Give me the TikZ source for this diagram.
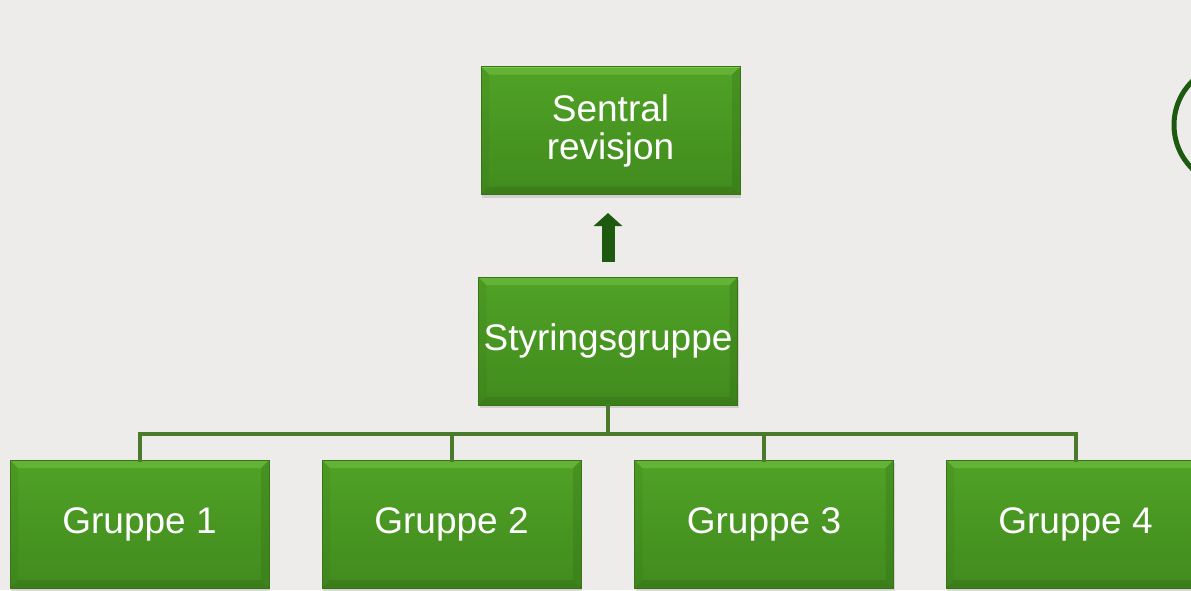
\documentclass[tikz,border=0pt]{standalone}
\usepackage{fontspec}
\setmainfont{Liberation Sans}
\usepackage{tikz}
\usetikzlibrary{positioning}
\usetikzlibrary{arrows.meta}
\usetikzlibrary{calc}
\usetikzlibrary{shadows}

\definecolor{bgcol}{HTML}{EEECEA}
\definecolor{boxtop}{HTML}{50A226}
\definecolor{boxbot}{HTML}{418B1E}
\definecolor{boxline}{HTML}{3A721A}
\definecolor{bevlight}{HTML}{7CCB4A}
\definecolor{bevdark}{HTML}{2F6614}
\definecolor{treecol}{HTML}{4A7B2B}
\definecolor{arrowcol}{HTML}{1D5A10}

\tikzset{
  orgbox/.style={rectangle, minimum width=259pt, minimum height=128pt, inner sep=0pt,
    top color=boxtop, bottom color=boxbot, draw=boxline, line width=1pt,
    text=white, align=center, font=\fontsize{37}{38}\selectfont,
    drop shadow={opacity=0.25, shadow xshift=1pt, shadow yshift=-3pt},
    path picture={
      \fill[bevlight, opacity=.45] (path picture bounding box.north west) -- (path picture bounding box.north east)
        -- ++(-8,8) -| ($(path picture bounding box.north west)+(8,8)$) -- cycle;
      \fill[bevdark, opacity=.35] (path picture bounding box.south west) -- (path picture bounding box.south east)
        -- ++(-8,-8) -| ($(path picture bounding box.south west)+(8,-8)$) -- cycle;
      \fill[bevdark, opacity=.25] (path picture bounding box.north east) -- (path picture bounding box.south east)
        -- ++(-8,-8) -- ($(path picture bounding box.north east)+(-8,8)$) -- cycle;
      \fill[bevdark, opacity=.12] (path picture bounding box.north west) -- (path picture bounding box.south west)
        -- ++(8,-8) -- ($(path picture bounding box.north west)+(8,8)$) -- cycle;
      \draw[bevlight, line width=2pt] (path picture bounding box.north west) -- (path picture bounding box.north east);
    }},
  tree/.style={draw=treecol, line width=4pt, line cap=rect},
  uparrow/.style={draw=arrowcol, line width=13pt, -{Triangle[width=28pt,length=13pt]}},
}

\begin{document}
\begin{tikzpicture}[x=1pt,y=-1pt]

\fill[bgcol] (0,0) rectangle (1191,590);
\useasboundingbox (0,0) rectangle (1191,590);
\clip (0,0) rectangle (1191,590);

\node[orgbox] (srev) at (610.5,130.5) {Sentral\\revisjon};
\node[orgbox] (sty) at (608,341) {Styringsgruppe};

\foreach \i/\x in {1/139.5,2/451.5,3/764,4/1075.5}
   \node[orgbox] (g\i) at (\x,524) {Gruppe \i};

\coordinate (hub) at ($(sty.south)+(0,28)$);
\foreach \i in {1,2,3,4}
   \draw[tree] (sty.south) -- (hub) -| (g\i.north);

\draw[uparrow, shorten <=15pt, shorten >=18pt] (sty.north) -- (sty.north |- srev.south);

% ring at the right edge
\draw[arrowcol, line width=5pt] (1235.6,125) circle (61.6);

\end{tikzpicture}
\end{document}
